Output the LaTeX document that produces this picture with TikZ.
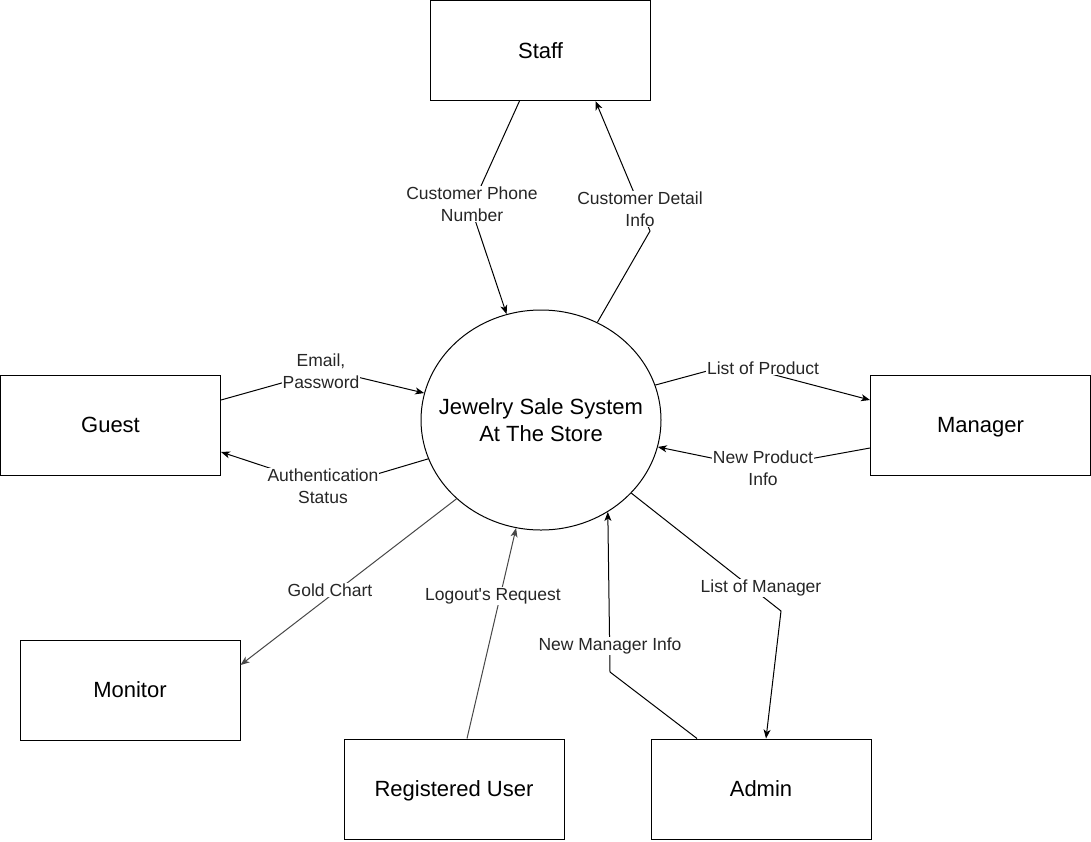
\documentclass[tikz,border=0pt]{standalone}
\usepackage{fontspec}
\newfontfamily\lf{Liberation Sans}
\usetikzlibrary{shapes.geometric,arrows.meta,calc}
\tikzset{
  entity/.style={draw=black,line width=1pt,fill=white,minimum width=220pt,minimum height=100pt,inner sep=0pt,font=\lf\fontsize{22}{27}\selectfont,text height=15.8pt,text depth=0pt},
  proc/.style={ellipse,draw=black,line width=1pt,fill=white,minimum width=240pt,minimum height=220pt,inner sep=0pt},
  proctext/.style={inner sep=0pt,font=\lf\fontsize{22}{27}\selectfont,align=center},
  flow/.style={draw=black,line width=1pt,-{Stealth[length=9pt,width=7pt,inset=2.5pt]}},
  gflow/.style={flow,draw=black!72,color=black!72},
  lbl/.style={fill=white,inner sep=1pt,font=\lf\fontsize{17.5}{21.5}\selectfont,align=center,text=black!85}
}
\begin{document}
\begin{tikzpicture}[x=1pt,y=-1pt]
\useasboundingbox (0,0) rectangle (1091,841);
\fill[white] (0,0) rectangle (1091,841);
% nodes
\node[entity] (staff) at (540.5,50.5) {Staff};
\node[entity] (guest) at (110.5,425) {Guest};
\node[entity] (manager) at (980.5,425) {Manager};
\node[entity] (monitor) at (130,690) {Monitor};
\node[entity] (reg) at (454,789) {Registered User};
\node[entity] (admin) at (761,789) {Admin};
\node[proc] (sys) at (541,420) {};
\node[proctext] (systext) at (sys.center) {Jewelry Sale System\\At The Store};
% bend points
\coordinate (bCPN) at (471,208);
\coordinate (bCDI) at (650,231);
\coordinate (bEP) at (328,370);
\coordinate (bAS) at (330,488);
\coordinate (bLP) at (733,364);
\coordinate (bNP) at (760,468);
\coordinate (bLM) at (781,611);
\coordinate (bNM) at (610,672);
% connectors
\draw[flow] ($(staff.south)+(-21,0)$) -- (bCPN) -- (sys.108);
\draw[flow] (sys.60) -- (bCDI) -- ($(staff.south)+(55,0)$);
\draw[flow] ($(guest.east)+(0,-25)$) -- (bEP) -- (sys.167);
\draw[flow] (sys.199) -- (bAS) -- ($(guest.east)+(0,27)$);
\draw[flow] (sys.17) -- (bLP) -- ($(manager.west)+(0,-25)$);
\draw[flow] ($(manager.west)+(0,23)$) -- (bNP) -- (sys.-13);
\draw[gflow] (sys.223) -- ($(monitor.east)+(0,-25)$);
\draw[gflow] ($(reg.north)+(13,0)$) -- (sys.257);
\draw[flow] ($(admin.north)+(-64,0)$) -- (bNM) -- (sys.306);
\draw[flow] (sys.321.5) -- (bLM) -- ($(admin.north)+(5,0)$);
% labels
\node[lbl] (lCPN) at (472,204) {Customer Phone\\Number};
\node[lbl] (lCDI) at (640,209) {Customer Detail\\Info};
\node[lbl] (lEP) at (321,371) {Email,\\Password};
\node[lbl] (lAS) at (323,486) {Authentication\\Status};
\node[lbl] (lLP) at (763,368) {List of Product};
\node[lbl] (lNP) at (763,468) {New Product\\Info};
\node[lbl] (lGC) at (330,590) {Gold Chart};
\node[lbl] (lLR) at (493,596) {Logout's Request};
\node[lbl] (lNM) at (610,646) {New Manager Info};
\node[lbl] (lLM) at (761,588) {List of Manager};
\end{tikzpicture}
\end{document}
